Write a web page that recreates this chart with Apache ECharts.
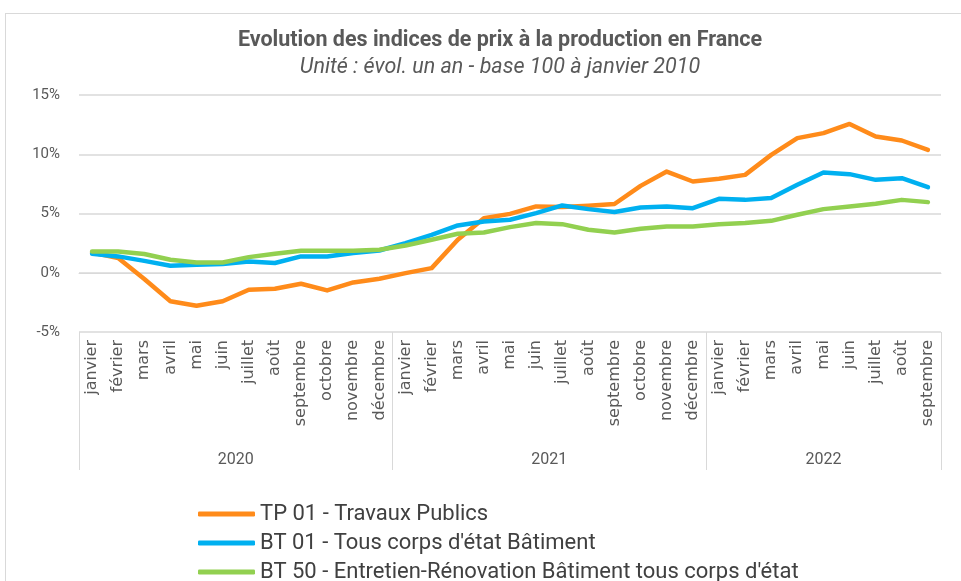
<!DOCTYPE html>
<html>
<head>
<meta charset="utf-8">
<script src="https://cdn.jsdelivr.net/npm/echarts@6/dist/echarts.min.js"></script>
<style>
  html, body { margin: 0; padding: 0; background: #fff; }
  .frame {
    position: absolute; left: 5px; top: 13px; width: 1000px; height: 1000px;
    border: 1px solid #d9d9d9;
  }
  #chart { position: absolute; left: 0; top: 0; width: 961px; height: 581px; }
</style>
</head>
<body>
<div class="frame"></div>
<div id="chart"></div>
<script>
// mois (janvier 2020 -> septembre 2022)
const monthNames = ['janvier', 'février', 'mars', 'avril', 'mai', 'juin', 'juillet', 'août',
  'septembre', 'octobre', 'novembre', 'décembre']
const years = ['2020', '2021', '2022']
const monthsPerYear = [12, 12, 9]

// séries (% évol. un an)
const tp01 = [1.7, 1.24, -0.53, -2.4, -2.78, -2.4, -1.43, -1.35, -0.93, -1.49, -0.82, -0.5,
  -0.03, 0.39, 2.78, 4.6, 4.97, 5.6, 5.54, 5.65, 5.8, 7.33, 8.54, 7.7,
  7.93, 8.26, 9.95, 11.36, 11.78, 12.56, 11.5, 11.16, 10.37]
const bt01 = [1.6, 1.38, 1.0, 0.59, 0.67, 0.73, 0.95, 0.82, 1.38, 1.38, 1.66, 1.88,
  2.5, 3.2, 3.99, 4.33, 4.47, 5.03, 5.68, 5.37, 5.12, 5.5, 5.59, 5.45,
  6.24, 6.15, 6.3, 7.42, 8.46, 8.32, 7.84, 7.98, 7.22]
const bt50 = [1.8, 1.8, 1.58, 1.1, 0.87, 0.87, 1.32, 1.6, 1.85, 1.85, 1.85, 1.94,
  2.3, 2.78, 3.29, 3.4, 3.85, 4.19, 4.1, 3.63, 3.4, 3.71, 3.9, 3.9,
  4.1, 4.19, 4.38, 4.89, 5.37, 5.59, 5.82, 6.15, 5.96]

const seriesNames = ['TP 01 - Travaux Publics', 'BT 01 - Tous corps d\'état Bâtiment',
  'BT 50 - Entretien-Rénovation Bâtiment tous corps d\'état']
const yTicks = [-5, 0, 5, 10, 15]

// catégories : un libellé de mois par point
const categories = []
monthsPerYear.forEach(n => {
  for (let i = 0; i < n; i++) categories.push(monthNames[i])
})

// bornes et milieux des groupes d'années
const yearBounds = [0]
monthsPerYear.forEach(n => yearBounds.push(yearBounds[yearBounds.length - 1] + n))
const yearCenters = monthsPerYear.map((n, i) => yearBounds[i] + n / 2)

const chart = echarts.init(document.getElementById('chart'))
const textColor = '#595959'

chart.setOption({
  animation: false,
  title: {
    text: 'Evolution des indices de prix à la production en France',
    subtext: 'Unité : évol. un an - base 100 à janvier 2010',
    left: 500,
    textAlign: 'center',
    top: 30,
    padding: 0,
    itemGap: 5,
    textStyle: { fontFamily: 'Roboto', fontSize: 21.5, fontWeight: 'bold', color: textColor },
    subtextStyle: { fontFamily: 'Roboto', fontSize: 21.5, fontStyle: 'italic', color: textColor },
  },
  legend: {
    orient: 'vertical',
    left: 198,
    top: 503,
    height: 90,
    padding: 0,
    itemWidth: 57,
    itemHeight: 5,
    itemGap: 7,
    icon: 'roundRect',
    textStyle: { fontFamily: 'Roboto', fontSize: 22, color: '#404040', lineHeight: 22 },
    data: seriesNames,
  },
  grid: { left: 79, right: 20, top: 95, bottom: 249, containLabel: false },
  xAxis: [
    {
      type: 'category',
      data: categories,
      boundaryGap: true,
      axisLine: { show: true, lineStyle: { color: '#d9d9d9', width: 1 } },
      axisTick: { show: false },
      axisLabel: {
        interval: 0,
        rotate: 90,
        margin: 8,
        fontFamily: 'DejaVu Sans',
        fontSize: 16,
        color: textColor,
      },
    },
    {
      type: 'value',
      position: 'bottom',
      min: 0,
      max: yearBounds[yearBounds.length - 1],
      axisLine: { show: false },
      splitLine: { show: false },
      axisTick: {
        show: true,
        customValues: yearBounds,
        length: 138,
        lineStyle: { color: '#d9d9d9', width: 1 },
      },
      axisLabel: {
        customValues: yearCenters,
        margin: 120,
        fontFamily: 'Roboto',
        fontSize: 16,
        color: textColor,
        formatter: v => years[yearCenters.indexOf(v)] || '',
      },
    },
  ],
  yAxis: {
    type: 'value',
    min: yTicks[0],
    max: yTicks[yTicks.length - 1],
    interval: 5,
    axisLine: { show: false },
    axisTick: { show: false },
    splitLine: { lineStyle: { color: '#d9d9d9', width: 1.5 } },
    axisLabel: {
      margin: 19,
      fontFamily: 'Roboto',
      fontSize: 15,
      color: textColor,
      formatter: '{value}%',
    },
  },
  series: [
    { name: seriesNames[0], data: tp01, color: '#ff8b1a' },
    { name: seriesNames[1], data: bt01, color: '#00b0f0' },
    { name: seriesNames[2], data: bt50, color: '#92d050' },
  ].map(s => ({
    type: 'line',
    name: s.name,
    data: s.data,
    xAxisIndex: 0,
    color: s.color,
    showSymbol: false,
    symbol: 'none',
    lineStyle: { width: 4.5, color: s.color, cap: 'round', join: 'round' },
  })),
})
</script>
</body>
</html>
